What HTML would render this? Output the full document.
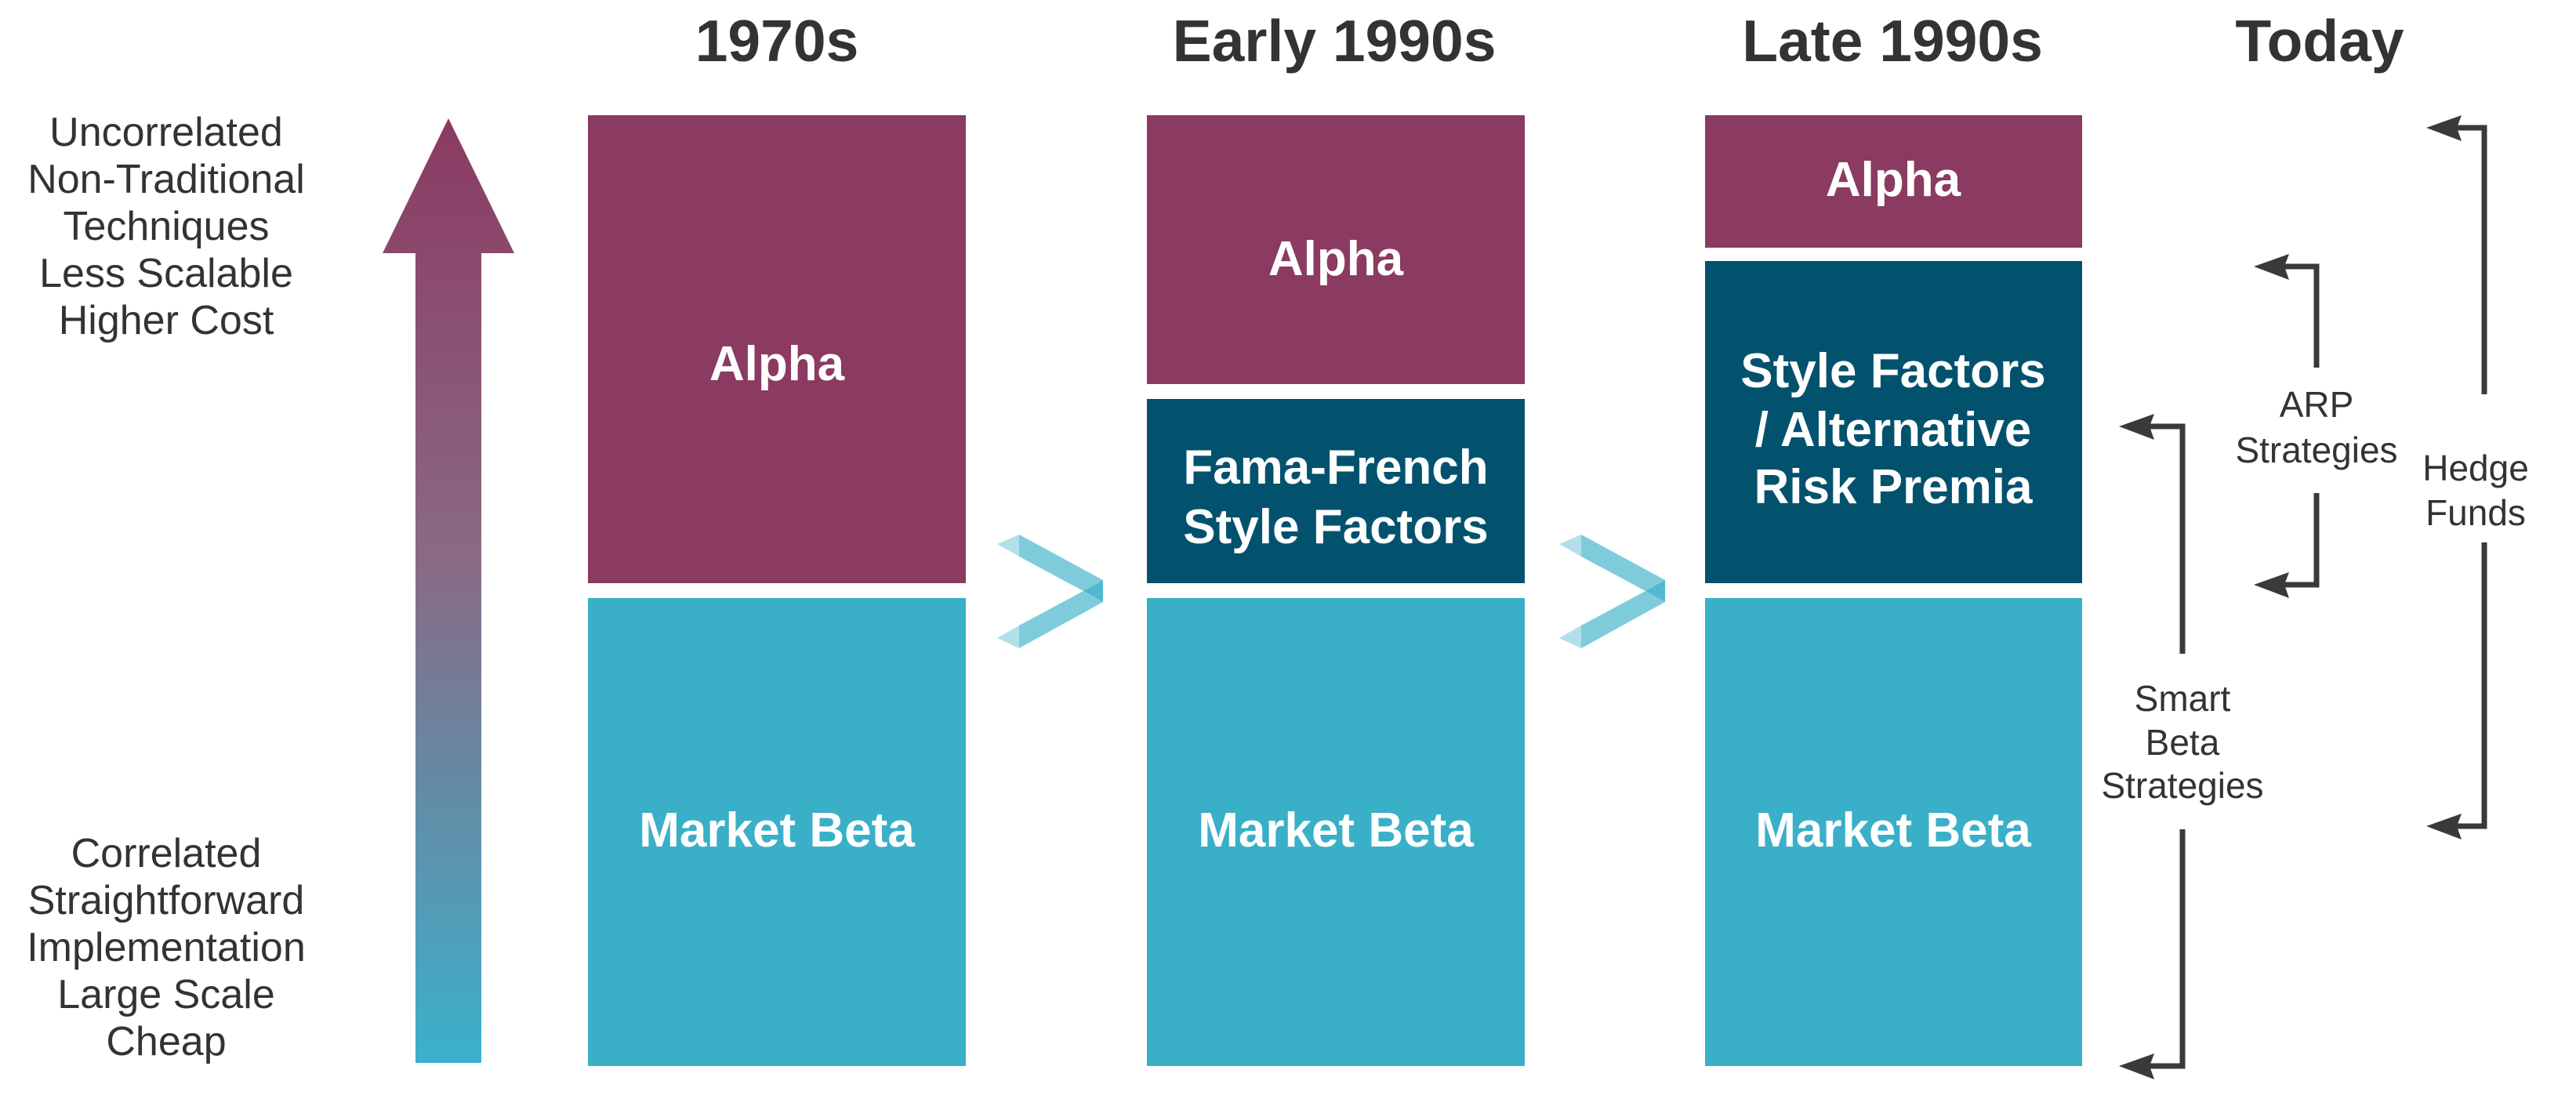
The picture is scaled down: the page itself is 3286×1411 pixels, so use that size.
<!DOCTYPE html>
<html><head><meta charset="utf-8"><style>
html,body{margin:0;padding:0;background:#fff;}
svg{display:block;}
text{font-family:"Liberation Sans",Arial,sans-serif;}
</style></head><body>
<svg width="3286" height="1411" viewBox="0 0 3286 1411" xmlns="http://www.w3.org/2000/svg">
<defs>
<linearGradient id="g" x1="0" y1="0" x2="0" y2="1">
<stop offset="0" stop-color="#8B3A62"/>
<stop offset="0.45" stop-color="#8A6882"/>
<stop offset="1" stop-color="#3BB1CC"/>
</linearGradient>
<g id="chev">
<polygon points="1272,694 1300,682 1300,710" fill="#B2DFEA"/>
<polygon points="1300,682 1407,740 1382,754 1300,710" fill="#7ECCDB"/>
<polygon points="1407,740 1407,768 1382,754" fill="#52B9D1"/>
<polygon points="1382,754 1407,768 1300,827 1300,798" fill="#7ECCDB"/>
<polygon points="1272,814 1300,798 1300,827" fill="#B2DFEA"/>
</g>
</defs>

<g font-weight="bold" font-size="75" fill="#333" text-anchor="middle">
<text x="991" y="78">1970s</text>
<text x="1702" y="78">Early 1990s</text>
<text x="2414" y="78">Late 1990s</text>
<text x="2959" y="78">Today</text>
</g>

<g font-size="52" fill="#333" text-anchor="middle">
<text x="212" y="186">Uncorrelated</text>
<text x="212" y="246">Non-Traditional</text>
<text x="212" y="306">Techniques</text>
<text x="212" y="366">Less Scalable</text>
<text x="212" y="426">Higher Cost</text>
<text x="212" y="1106">Correlated</text>
<text x="212" y="1166">Straightforward</text>
<text x="212" y="1226">Implementation</text>
<text x="212" y="1286">Large Scale</text>
<text x="212" y="1346">Cheap</text>
</g>

<polygon points="572,151 656,323 614,323 614,1356 530,1356 530,323 488,323" fill="url(#g)"/>

<rect x="750" y="147" width="482" height="597" fill="#8B3A62"/>
<rect x="750" y="763" width="482" height="597" fill="#3AAFC8"/>

<rect x="1463" y="147" width="482" height="343" fill="#8B3A62"/>
<rect x="1463" y="509" width="482" height="235" fill="#02526E"/>
<rect x="1463" y="763" width="482" height="597" fill="#3AAFC8"/>

<rect x="2175" y="147" width="481" height="169" fill="#8B3A62"/>
<rect x="2175" y="333" width="481" height="411" fill="#02526E"/>
<rect x="2175" y="763" width="481" height="597" fill="#3AAFC8"/>

<g font-weight="bold" font-size="62" fill="#fff" text-anchor="middle">
<text x="991" y="485">Alpha</text>
<text x="991" y="1080">Market Beta</text>
<text x="1704" y="351">Alpha</text>
<text x="1704" y="617">Fama-French</text>
<text x="1704" y="693">Style Factors</text>
<text x="1704" y="1080">Market Beta</text>
<text x="2415" y="250">Alpha</text>
<text x="2415" y="494">Style Factors</text>
<text x="2415" y="569">/ Alternative</text>
<text x="2415" y="642">Risk Premia</text>
<text x="2415" y="1080">Market Beta</text>
</g>

<use href="#chev"/>
<use href="#chev" transform="translate(717,0)"/>

<g fill="none" stroke="#3a3a3a" stroke-width="7">
<path d="M2742,544 H2784 V834"/>
<path d="M2784,1058 V1360 H2742"/>
<path d="M2914,340 H2955 V469"/>
<path d="M2955,629 V746 H2914"/>
<path d="M3134,163 H3169 V503"/>
<path d="M3169,692 V1054 H3134"/>
</g>
<g fill="#3a3a3a">
<polygon points="2703,544 2748,528 2742,544 2748,561"/>
<polygon points="2703,1360 2748,1344 2742,1360 2748,1377"/>
<polygon points="2875,340 2920,324 2914,340 2920,357"/>
<polygon points="2875,746 2920,730 2914,746 2920,763"/>
<polygon points="3095,163 3140,147 3134,163 3140,180"/>
<polygon points="3095,1054 3140,1038 3134,1054 3140,1071"/>
</g>

<g font-size="46" fill="#333" text-anchor="middle">
<text x="2784" y="907">Smart</text>
<text x="2784" y="963">Beta</text>
<text x="2784" y="1018">Strategies</text>
<text x="2955" y="532">ARP</text>
<text x="2955" y="590">Strategies</text>
<text x="3158" y="613">Hedge</text>
<text x="3158" y="670">Funds</text>
</g>
</svg>
</body></html>
